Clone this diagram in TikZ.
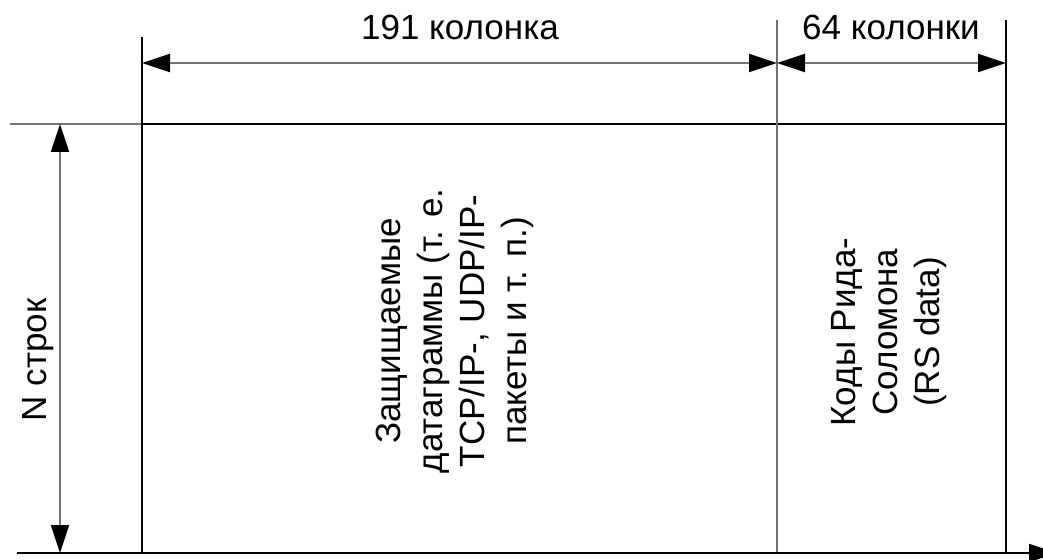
\documentclass[tikz,border=0pt]{standalone}
\usepackage{fontspec}
\setmainfont{Liberation Sans}
\usetikzlibrary{arrows.meta}
\begin{document}
\begin{tikzpicture}[x=0.5pt,y=-0.5pt,
  blk/.style={draw=black,line width=1pt},
  gry/.style={draw=black!55,line width=1pt},
  dimarrow/.style={draw=black!55,line width=1pt,{Triangle[length=14pt,width=9pt,color=black]}-{Triangle[length=14pt,width=9pt,color=black]}},
  axarrow/.style={draw=black,line width=1pt,-{Triangle[length=14pt,width=9pt]}},
  lbl/.style={font=\fontsize{17.5}{21}\selectfont,inner sep=0pt},
  vlbl/.style={lbl,rotate=90,align=center}]
\useasboundingbox (0,0) rectangle (1043,560);
\clip (0,0) rectangle (1043,560);
\fill[white] (0,0) rectangle (1043,560);
% frame coordinates
\coordinate (L0) at (142,37);
\coordinate (L1) at (142,553);
\coordinate (M0) at (777,20);
\coordinate (M1) at (777,553);
\coordinate (R0) at (1006,20);
\coordinate (R1) at (1006,553);
\coordinate (T0) at (10,124);
\coordinate (TL) at (142,124);
\coordinate (T1) at (1006,124);
\coordinate (B0) at (17,553);
\coordinate (B1) at (1057,553);
% dimension coordinates
\coordinate (DL) at (142,63);
\coordinate (DM) at (777,63);
\coordinate (DR) at (1006,63);
\coordinate (NT) at (60,124);
\coordinate (NB) at (60,553);
% lines
\draw[gry] (T0) -- (TL);
\draw[blk] (TL) -- (T1);
\draw[blk] (L0) -- (L1);
\draw[gry] (M0) -- (M1);
\draw[blk] (R0) -- (R1);
\draw[axarrow] (B0) -- (B1);
% dimensions
\draw[dimarrow] (DL) -- (DM);
\draw[dimarrow] (DM) -- (DR);
\draw[dimarrow] (NT) -- (NB);
% labels
\node[lbl] (c191) at (460,27) {191 колонка};
\node[lbl] (c64) at (891,27) {64 колонки};
\node[vlbl] (nrows) at (38,360) {N строк};
\node[vlbl] (data) at (455,331) {Защищаемые\\датаграммы (т. е.\\TCP/IP-, UDP/IP-\\пакеты и т. п.)};
\node[vlbl] (rs) at (889,332) {Коды Рида-\\Соломона\\(RS data)};
\end{tikzpicture}
\end{document}
